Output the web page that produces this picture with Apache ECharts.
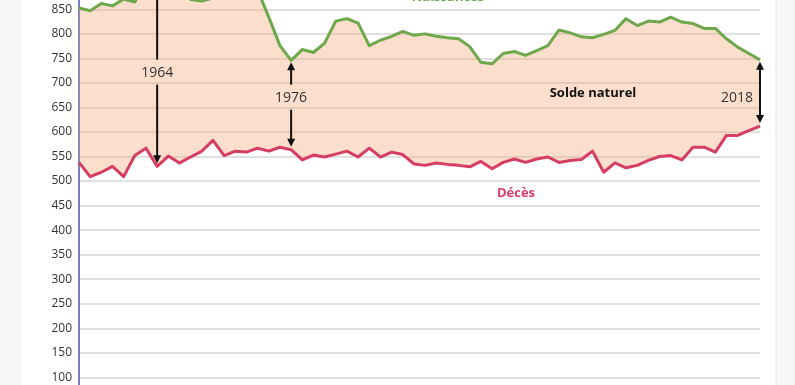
<!DOCTYPE html>
<html>
<head>
<meta charset="utf-8">
<script src="https://cdn.jsdelivr.net/npm/echarts@6/dist/echarts.min.js"></script>
<style>
html,body{margin:0;padding:0;background:#fff;overflow:hidden;width:795px;height:385px;}
#wrap{position:relative;width:795px;height:385px;overflow:hidden;}
#chart{position:absolute;left:0;top:-16px;width:795px;height:443px;}
</style>
</head>
<body>
<div id="wrap"><div id="chart"></div></div>
<script>
var years = [];
for (var y = 1957; y <= 2018; y++) years.push(String(y));

var naissances = [853,847,862,857,871,865,901,907,895,893,870,867,873,881,913,910,889,834,776,746,
  768,762,781,826,831,822,776,787,795,805,797,800,795,792,790,774,742,739,760,764,
  756,766,776,808,802,794,792,799,807,831,817,826,824,834,824,821,811,811,790,773,
  760,747];

var deces = [538,509,518,530,509,552,567,530,551,537,549,561,583,552,561,559,567,561,569,564,
  543,553,549,555,561,549,567,549,559,554,535,532,537,534,532,529,540,525,538,545,
  538,545,549,538,542,544,561,518,537,527,532,542,550,552,543,569,569,559,593,593,
  603,612];

var yTickMin = 0, yTickMax = 900, yTickStep = 50;

var annotYears = ['1964','1976','2018'];
var annotLabelValue = [721, 670, 670];

var solde = naissances.map(function(v,i){ return v - deces[i]; });

var annotData = annotYears.map(function(yr, k){
  var i = years.indexOf(yr);
  return [yr, naissances[i], deces[i], annotLabelValue[k]];
});

var GREEN = '#6ea84b', RED = '#d63d62';
var OFF = 16;

var chart = echarts.init(document.getElementById('chart'), null, {renderer:'canvas'});

function arrowHead(tip, dir){
  return {type:'polygon', shape:{points:[[tip[0], tip[1]], [tip[0]-4, tip[1]-dir*8], [tip[0]+4, tip[1]-dir*8]]},
    style:{fill:'#111'}};
}

chart.setOption({
  animation:false,
  backgroundColor:'#fff',
  textStyle:{fontFamily:'Open Sans'},
  grid:{left:79, right:35, top:0.8, bottom:0.6, containLabel:false, outerBoundsMode:'none'},
  xAxis:{type:'category', data:years, boundaryGap:false,
    axisLine:{show:false}, axisTick:{show:false}, axisLabel:{show:false}, splitLine:{show:false}},
  yAxis:{type:'value', min:yTickMin, max:yTickMax, interval:yTickStep,
    axisLine:{show:true, lineStyle:{color:'#7b7fc6', width:2}},
    axisTick:{show:false},
    axisLabel:{color:'#333', fontSize:12, margin:7, fontFamily:'Open Sans'},
    splitLine:{lineStyle:{color:'#e0e0e0', width:2}}},
  graphic:[
    {type:'rect', shape:{x:0,y:0,width:21,height:443}, style:{fill:'#f6f6f6'}, z:100},
    {type:'rect', shape:{x:776,y:0,width:19,height:443}, style:{fill:'#f7f7f7', stroke:'#e3e3e3', lineWidth:1}, z:100},
    {type:'text', x:448, y:-3+OFF, style:{text:'Naissances', fill:GREEN, font:'bold 13px "Open Sans"', textAlign:'center', textVerticalAlign:'middle'}, z:50},
    {type:'text', x:593, y:93+OFF, style:{text:'Solde naturel', fill:'#111', font:'bold 13px "Open Sans"', textAlign:'center', textVerticalAlign:'middle'}, z:50},
    {type:'text', x:516, y:193+OFF, style:{text:'Décès', fill:RED, font:'bold 13px "Open Sans"', textAlign:'center', textVerticalAlign:'middle'}, z:50}
  ],
  series:[
    {name:'base', type:'line', stack:'solde', data:deces, symbol:'none', silent:true,
      lineStyle:{opacity:0}, z:1},
    {name:'Solde naturel', type:'line', stack:'solde', data:solde, symbol:'none', silent:true,
      lineStyle:{opacity:0}, areaStyle:{color:'rgba(245,160,110,0.35)', opacity:1}, z:1},
    {name:'Naissances', type:'line', data:naissances, symbol:'none',
      lineStyle:{color:GREEN, width:3, join:'round'}, z:3},
    {name:'Décès', type:'line', data:deces, symbol:'none',
      lineStyle:{color:RED, width:3, join:'round'}, z:3},
    {name:'annot', type:'custom', data:annotData, z:5, silent:true, clip:false,
      renderItem:function(params, api){
        var xi = api.value(0);
        var pTop = api.coord([xi, api.value(1)]);
        var pBot = api.coord([xi, api.value(2)]);
        var pLab = api.coord([xi, api.value(3)]);
        var label = annotYears[params.dataIndex];
        var children = [];
        var ls = {stroke:'#111', lineWidth:2};
        var tTop = [pTop[0], pTop[1]+2], tBot = [pBot[0], pBot[1]-3];
        if (params.dataIndex === annotYears.length-1){
          children.push({type:'line', shape:{x1:tTop[0], y1:tTop[1]+6, x2:tBot[0], y2:tBot[1]-6}, style:ls});
          children.push({type:'text', style:{text:label, x:pTop[0]-7, y:pLab[1], fill:'#333', font:'14px "Open Sans"', textAlign:'right', textVerticalAlign:'middle'}});
        } else {
          children.push({type:'line', shape:{x1:tTop[0], y1:tTop[1]+6, x2:tTop[0], y2:pLab[1]-13}, style:ls});
          children.push({type:'line', shape:{x1:tBot[0], y1:pLab[1]+12, x2:tBot[0], y2:tBot[1]-6}, style:ls});
          children.push({type:'text', style:{text:label, x:pTop[0], y:pLab[1], fill:'#333', font:'14px "Open Sans"', textAlign:'center', textVerticalAlign:'middle'}});
        }
        children.push(arrowHead(tTop, -1));
        children.push(arrowHead(tBot, 1));
        return {type:'group', children:children};
      }}
  ]
});
</script>
</body>
</html>
